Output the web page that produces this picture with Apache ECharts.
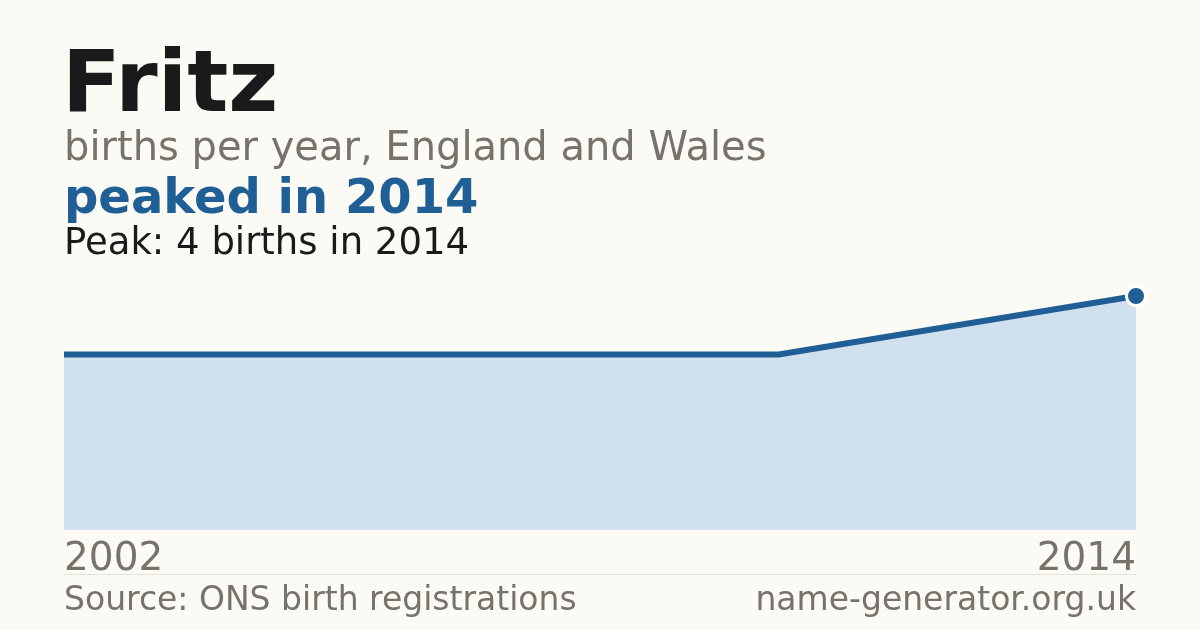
<!DOCTYPE html>
<html>
<head>
<meta charset="utf-8">
<script src="https://cdn.jsdelivr.net/npm/echarts@6/dist/echarts.min.js"></script>
<style>
html,body{margin:0;padding:0;background:#fbfaf5;}
#c{width:1200px;height:630px;}
</style>
</head>
<body>
<div id="c"></div>
<script>
const years = [2002, 2003, 2004, 2005, 2006, 2007, 2008, 2009, 2010, 2014];
const births = [3, 3, 3, 3, 3, 3, 3, 3, 3, 4];
const tickLabels = ['2002', '2014'];
const peakYear = 2014;
const peakValue = 4;

const FONT = 'DejaVu Sans';
const BLUE = '#1f5f96';
const GREY = '#77726b';

const chart = echarts.init(document.getElementById('c'), null, {renderer: 'canvas'});
const seriesData = years.map((y, i) => ({
  value: [y, births[i]],
  symbol: (y === peakYear) ? 'circle' : 'none'
}));

chart.setOption({
  backgroundColor: '#fbfaf5',
  animation: false,
  title: [
    {text: 'Fritz', left: 62, top: 46, padding: 0, textStyle: {fontFamily: FONT, fontWeight: 'bold', fontSize: 86, color: '#1a1a1a'}},
    {text: 'births per year, England and Wales', left: 64, top: 130, padding: 0, textStyle: {fontFamily: FONT, fontWeight: 'normal', fontSize: 40, color: GREY}},
    {text: 'peaked in 2014', left: 64, top: 177, padding: 0, textStyle: {fontFamily: FONT, fontWeight: 'bold', fontSize: 48, color: BLUE}},
    {text: 'Peak: ' + peakValue + ' births in ' + peakYear, left: 64, top: 226, padding: 0, textStyle: {fontFamily: FONT, fontWeight: 'normal', fontSize: 37, color: '#1a1a1a'}},
    {text: 'Source: ONS birth registrations', left: 64, top: 585, padding: 0, textStyle: {fontFamily: FONT, fontWeight: 'normal', fontSize: 33, color: GREY}},
    {text: 'name-generator.org.uk', right: 64, top: 585, padding: 0, textStyle: {fontFamily: FONT, fontWeight: 'normal', fontSize: 33, color: GREY}}
  ],
  graphic: [
    {type: 'line', shape: {x1: 64, y1: 574.5, x2: 1136, y2: 574.5}, style: {stroke: '#e3e0d8', lineWidth: 1}}
  ],
  grid: {left: 64, right: 64, top: 296, bottom: 100, containLabel: false},
  xAxis: {
    type: 'value', min: 2002, max: 2014, interval: 12,
    axisLine: {show: false}, axisTick: {show: false}, splitLine: {show: false},
    axisLabel: {
      show: true, margin: 10, fontFamily: FONT, fontSize: 39, color: GREY,
      alignMinLabel: 'left', alignMaxLabel: 'right',
      formatter: v => (v === 2002 ? tickLabels[0] : (v === 2014 ? tickLabels[1] : ''))
    }
  },
  yAxis: {
    type: 'value', min: 0, max: 4,
    show: false, splitLine: {show: false}
  },
  series: [{
    type: 'line',
    data: seriesData,
    symbolSize: 19,
    itemStyle: {color: BLUE, borderColor: '#ffffff', borderWidth: 3},
    lineStyle: {color: BLUE, width: 6},
    areaStyle: {color: '#d0e0ef', opacity: 1},
    z: 3
  }]
});
</script>
</body>
</html>
